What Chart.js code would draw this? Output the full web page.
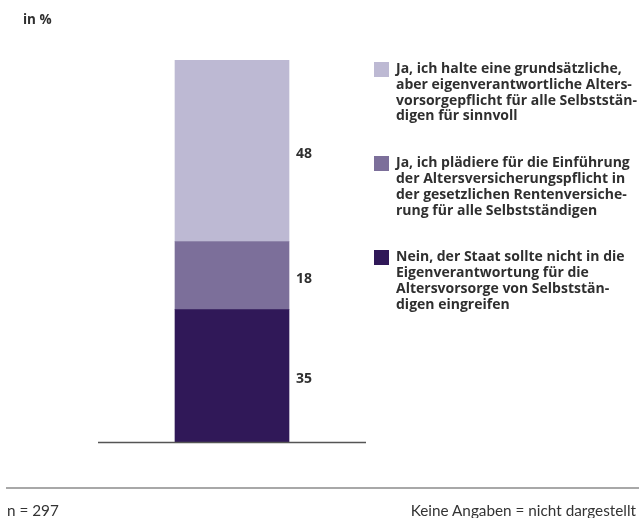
<!DOCTYPE html>
<html>
<head>
<meta charset="utf-8">
<script src="https://cdn.jsdelivr.net/npm/chart.js@4"></script>
<style>
  html, body { margin: 0; padding: 0; background: #fff; }
  body { width: 639px; height: 518px; position: relative; overflow: hidden; font-family: "Open Sans", "Lato", sans-serif; color: #333; }
  #wrap { position: absolute; left: 0; top: 0; width: 639px; height: 518px; }
  #unit { position: absolute; left: 23px; top: 10px; font-weight: bold; font-size: 13.5px; color: #2f2f2f; }
  #legend { position: absolute; left: 374px; top: 60px; width: 265px; }
  .item { position: relative; padding-left: 22px; margin-bottom: 31px; font-weight: bold; font-size: 14px; line-height: 15.8px; color: #2f2f2f; white-space: nowrap; }
  .sw { position: absolute; left: 0; top: 2px; width: 15px; height: 15px; }
  #rule { position: absolute; left: 6px; right: 0; top: 487px; height: 2px; background: #a8a8a8; }
  #n { position: absolute; left: 7px; top: 501px; font-family: "Lato", sans-serif; font-size: 15.3px; color: #333; }
  #na { position: absolute; right: 3px; top: 501px; font-family: "Lato", sans-serif; font-size: 15.3px; color: #333; }
</style>
</head>
<body>
<div id="wrap"><canvas id="c" width="639" height="518"></canvas></div>
<div id="unit">in %</div>
<div id="legend"></div>
<div id="rule"></div>
<div id="n">n = 297</div>
<div id="na">Keine Angaben = nicht dargestellt</div>
<script>
const categories = ["Gesamt"];
const seriesLabels = [
  ["Ja, ich halte eine grundsätzliche,", "aber eigenverantwortliche Alters-", "vorsorgepflicht für alle Selbststän-", "digen für sinnvoll"],
  ["Ja, ich plädiere für die Einführung", "der Altersversicherungspflicht in", "der gesetzlichen Rentenversiche-", "rung für alle Selbstständigen"],
  ["Nein, der Staat sollte nicht in die", "Eigenverantwortung für die", "Altersvorsorge von Selbststän-", "digen eingreifen"]
];
const valuesJaGrundsaetzlich = [48];
const valuesJaRentenversicherung = [18];
const valuesNein = [35];
const seriesColors = ["#bdb9d3", "#7c6f9a", "#301858"];

// Legend (HTML, real text)
const legendEl = document.getElementById('legend');
seriesLabels.forEach((lines, i) => {
  const d = document.createElement('div');
  d.className = 'item';
  const sw = document.createElement('span');
  sw.className = 'sw';
  sw.style.background = seriesColors[i];
  d.appendChild(sw);
  lines.forEach((l, j) => {
    d.appendChild(document.createTextNode(l));
    if (j < lines.length - 1) d.appendChild(document.createElement('br'));
  });
  legendEl.appendChild(d);
});

const sideLabels = {
  id: 'sideLabels',
  afterDatasetsDraw(chart) {
    const ctx = chart.ctx;
    ctx.save();
    ctx.font = 'bold 14px "Open Sans", Lato, sans-serif';
    ctx.fillStyle = '#2f2f2f';
    ctx.textAlign = 'left';
    ctx.textBaseline = 'middle';
    chart.data.datasets.forEach((ds, i) => {
      const meta = chart.getDatasetMeta(i);
      meta.data.forEach((bar, j) => {
        const v = ds.data[j];
        const yc = (bar.y + bar.base) / 2;
        ctx.fillText(String(v), bar.x + bar.width / 2 + 7, yc + 3.5);
      });
    });
    ctx.restore();
  }
};

const baseline = {
  id: 'baseline',
  afterDraw(chart) {
    const ctx = chart.ctx;
    const a = chart.chartArea;
    const y = chart.scales.y.getPixelForValue(0);
    ctx.save();
    ctx.strokeStyle = '#555';
    ctx.lineWidth = 1.5;
    ctx.beginPath();
    ctx.moveTo(a.left, y + 0.5);
    ctx.lineTo(a.right, y + 0.5);
    ctx.stroke();
    ctx.restore();
  }
};

// Stack order: bottom = Nein, middle = Rentenversicherung, top = grundsätzlich
new Chart(document.getElementById('c'), {
  type: 'bar',
  data: {
    labels: categories,
    datasets: [
      { label: seriesLabels[2].join(' '), data: valuesNein, backgroundColor: seriesColors[2] },
      { label: seriesLabels[1].join(' '), data: valuesJaRentenversicherung, backgroundColor: seriesColors[1] },
      { label: seriesLabels[0].join(' '), data: valuesJaGrundsaetzlich, backgroundColor: seriesColors[0] }
    ]
  },
  options: {
    responsive: false,
    animation: false,
    devicePixelRatio: 1,
    layout: { padding: { left: 98, right: 273, top: 60, bottom: 76 } },
    datasets: { bar: { barThickness: 114, borderWidth: 0 } },
    plugins: { legend: { display: false }, tooltip: { enabled: false } },
    scales: {
      x: { stacked: true, display: false },
      y: { stacked: true, display: false, min: 0, max: 101 }
    }
  },
  plugins: [sideLabels, baseline]
});
</script>
</body>
</html>
